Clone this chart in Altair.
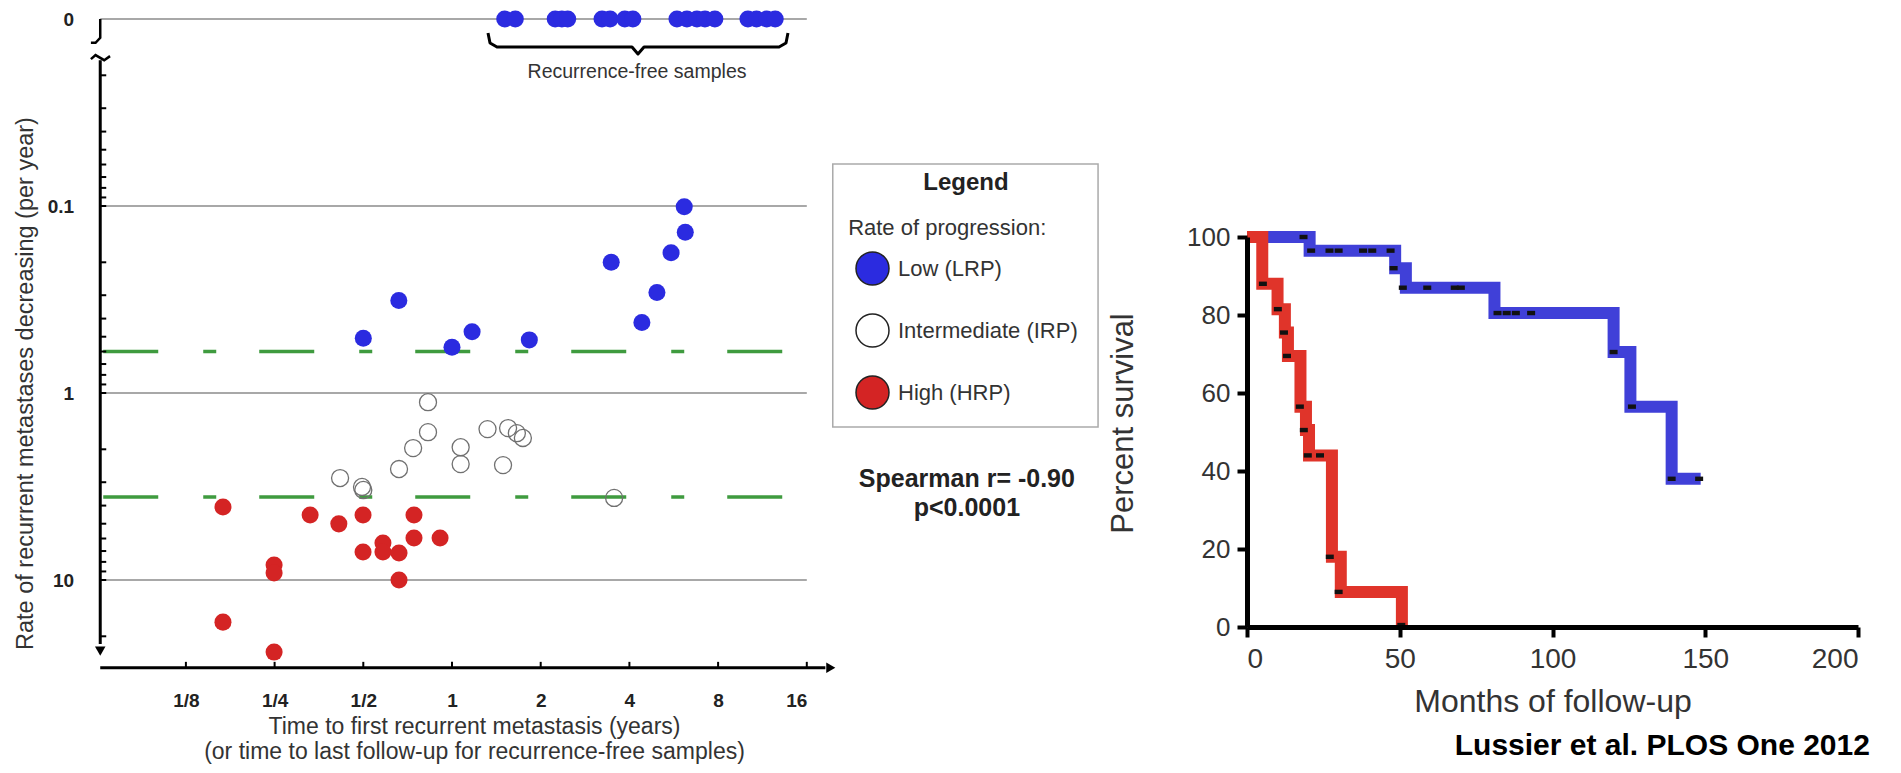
import math
import altair as alt
import pandas as pd

FONT = "Liberation Sans"

# ------------------------------------------------------------------ data
categories = ["Low (LRP)", "Intermediate (IRP)", "High (HRP)"]
cat_fill = ["#2b2be0", "transparent", "#d42424"]

# left panel: time to first recurrent metastasis (years) vs rate (per year)
lrp_time = [0.50, 0.66, 1.00, 1.17, 1.83, 3.47, 4.41, 4.96, 5.54, 6.19, 6.14]
lrp_rate = [0.51, 0.32, 0.57, 0.47, 0.52, 0.20, 0.42, 0.29, 0.178, 0.138, 0.101]
irp_time = [0.417, 0.495, 0.50, 0.661, 0.738, 0.829, 0.829, 1.07, 1.07, 1.32, 1.49, 1.55, 1.66, 1.74, 3.55]
irp_rate = [2.85, 3.18, 3.30, 2.55, 1.97, 1.62, 1.12, 1.95, 2.40, 1.56, 2.43, 1.54, 1.64, 1.74, 3.64]
hrp_time = [0.167, 0.167, 0.249, 0.249, 0.249, 0.330, 0.413, 0.499, 0.499, 0.583, 0.583, 0.661, 0.661, 0.743, 0.743, 0.911]
hrp_rate = [4.07, 16.8, 8.32, 9.18, 24.3, 4.49, 5.01, 4.49, 7.08, 6.34, 7.08, 7.17, 10.0, 4.49, 5.96, 5.96]
free_time = [1.51, 1.64, 2.24, 2.36, 2.47, 3.23, 3.44, 3.86, 4.11, 5.80, 6.27, 6.78, 7.22, 7.80, 10.1, 10.8, 11.7, 12.5]
zero_rate_position = 0.01          # where the broken "0" row sits on the log axis
thresholds = [0.6, 3.6]

x_tick_values = [1 / 8, 1 / 4, 1 / 2, 1, 2, 4, 8, 16]
x_tick_labels = ["1/8", "1/4", "1/2", "1", "2", "4", "8", "16"]
y_tick_values = [0.01, 0.1, 1, 10]
y_tick_labels = ["0", "0.1", "1", "10"]
y_minor_ticks = [0.02, 0.03, 0.04, 0.05, 0.06, 0.07, 0.08, 0.09, 0.1,
                 0.2, 0.3, 0.4, 0.5, 0.6, 0.7, 0.8, 0.9, 1,
                 2, 3, 4, 5, 6, 7, 8, 9, 10, 20]
grid_values = [0.01, 0.1, 1, 10]

spearman_lines = ["Spearman r= -0.90", "p<0.0001"]

# right panel: Kaplan-Meier
lrp_km_time = [0, 20.5, 48.5, 52, 81, 120, 125.5, 139, 148.5]
lrp_km_surv = [100, 96.5, 92, 87, 80.5, 70.5, 56.5, 38, 38]
hrp_km_time = [0, 5, 10, 12.4, 13.4, 17.5, 19.3, 20.3, 27.8, 30.7, 50.7]
hrp_km_surv = [100, 88, 81.5, 75.5, 69.5, 56.5, 50.5, 44, 18, 9, 0]
lrp_cens_time = [18.5, 21, 27, 30, 38, 41, 47, 48, 51, 59, 68, 70, 82, 85, 88, 93, 120, 126, 139, 148]
lrp_cens_surv = [100, 96.5, 96.5, 96.5, 96.5, 96.5, 96.5, 92, 87, 87, 87, 87, 80.5, 80.5, 80.5, 80.5, 70.5, 56.5, 38, 38]
hrp_cens_time = [5.2, 10.1, 12.1, 13.1, 17.3, 18.6, 19.9, 23.9, 27.1, 30, 50.5]
hrp_cens_surv = [88, 81.5, 75.5, 69.5, 56.5, 50.5, 44, 44, 18, 9, 0.5]
km_x_ticks = [0, 50, 100, 150, 200]
km_y_ticks = [0, 20, 40, 60, 80, 100]

# ------------------------------------------------------------------ layout
W, H = 1885, 757
LX_RANGE = [89.2, 798.8]
LY_RANGE = [11, 759]
RX_RANGE = [1239, 1850]
RY_RANGE = [619, 229]

# decorations, in data units of each panel
AXIS_X = 0.064
AXIS_Y = 29.5
Y_AXIS_TOP, Y_AXIS_END, Y_ARROW = 0.0166, 22.0, 24.0
X_AXIS_END, X_ARROW = 18.5, 19.3
break_lines = {
    "a": ([0.064, 0.064, 0.0617, 0.0595], [0.01, 0.0126, 0.0134, 0.0134]),
    "b": ([0.0595, 0.0617, 0.066, 0.0691], [0.0164, 0.0156, 0.0166, 0.0158]),
}
bracket_x = [1.325, 1.346, 1.421, 4.082, 4.277, 4.484, 12.88, 13.60, 13.81]
bracket_y = [0.01189, 0.01344, 0.01411, 0.01411, 0.01539, 0.01411, 0.01411, 0.01344, 0.01189]
recur_text_pos = (4.245, 0.0192)
spearman_pos = (55.9, [2.90, 4.10])
rate_text_pos = (22.1, 0.131)
legend_box = (19.6, 155.8, 0.0596, 1.52)
credit_pos = (203.9, -30.6)


def lookup_expr(values, labels):
    expr = f"'{labels[-1]}'"
    for i in range(len(values) - 2, -1, -1):
        thr = math.sqrt(values[i] * values[i + 1])
        expr = f"datum.value < {thr:.6g} ? '{labels[i]}' : ({expr})"
    return expr


LXS = alt.Scale(type="log", base=2, domain=[1 / 16, 16], range=LX_RANGE, nice=False)
LYS = alt.Scale(type="log", base=10, domain=[0.01, 100], range=LY_RANGE, nice=False)

AX_LX = alt.Axis(
    orient="bottom", offset=-97, values=x_tick_values,
    labelExpr=lookup_expr(x_tick_values, x_tick_labels),
    domain=False, ticks=False, tickSize=0, grid=False,
    labelPadding=23, labelFontSize=19, labelFontWeight="bold", labelColor="#222", labelFont=FONT,
    title=["Time to first recurrent metastasis (years)",
           "(or time to last follow-up for recurrence-free samples)"],
    titleFontSize=23, titleFontWeight="normal", titleColor="#333", titleFont=FONT,
    titleX=466, titleY=47, titleBaseline="top", titleAlign="center", titleLineHeight=25,
)
AX_LY = alt.Axis(
    orient="left", offset=-91.6, values=y_tick_values,
    labelExpr=lookup_expr(y_tick_values, y_tick_labels),
    domain=False, ticks=False, tickSize=0, grid=False,
    labelPadding=26, labelFontSize=19, labelFontWeight="bold", labelColor="#222", labelFont=FONT,
    title="Rate of recurrent metastases decreasing (per year)",
    titleFontSize=23.5, titleFontWeight="normal", titleColor="#333", titleFont=FONT,
    titleX=-74, titleY=375, titleAngle=270, titleBaseline="middle", titleAlign="center",
)


def lx(f, axis=None):
    return alt.X(f, scale=LXS, axis=axis)


def ly(f, axis=None):
    return alt.Y(f, scale=LYS, axis=axis)


grid = alt.Chart(pd.DataFrame({"x0": AXIS_X, "x1": 16, "y": grid_values})).mark_rule(
    color="#a8a8a8", strokeWidth=2).encode(x=lx("x0:Q", AX_LX), x2="x1:Q", y=ly("y:Q", AX_LY))

thr = alt.Chart(pd.DataFrame({"x0": AXIS_X, "x1": 16, "y": thresholds})).mark_rule(
    color="#3f9b3f", strokeWidth=3.5, strokeDash=[55, 45, 13, 43], strokeDashOffset=153
).encode(x=lx("x0:Q"), x2="x1:Q", y=ly("y:Q"))

box = alt.Chart(pd.DataFrame({"x0": [legend_box[0]], "x1": [legend_box[1]],
                              "y0": [legend_box[2]], "y1": [legend_box[3]]})).mark_rect(
    fillOpacity=0, stroke="#aaaaaa", strokeWidth=1.5).encode(
    x=lx("x0:Q"), x2="x1:Q", y=ly("y0:Q"), y2="y1:Q")

minor = alt.Chart(pd.DataFrame({"x": AXIS_X, "y": y_minor_ticks})).mark_tick(
    orient="horizontal", size=6, thickness=2, xOffset=3, color="black", opacity=1
).encode(x=lx("x:Q"), y=ly("y:Q"))

xticks = alt.Chart(pd.DataFrame({"x": x_tick_values, "y": AXIS_Y})).mark_tick(
    orient="vertical", size=6, thickness=2, yOffset=-3, color="black", opacity=1
).encode(x=lx("x:Q"), y=ly("y:Q"))

xline = alt.Chart(pd.DataFrame({"x0": [AXIS_X], "x1": [X_AXIS_END], "y": [AXIS_Y]})).mark_rule(
    color="black", strokeWidth=3).encode(x=lx("x0:Q"), x2="x1:Q", y=ly("y:Q"))
yline = alt.Chart(pd.DataFrame({"x": [AXIS_X], "y0": [Y_AXIS_TOP], "y1": [Y_AXIS_END]})).mark_rule(
    color="black", strokeWidth=3).encode(x=lx("x:Q"), y=ly("y0:Q"), y2="y1:Q")
arrow_down = alt.Chart(pd.DataFrame({"x": [AXIS_X], "y": [Y_ARROW]})).mark_point(
    shape="triangle-down", filled=True, size=110, color="black", opacity=1).encode(x=lx("x:Q"), y=ly("y:Q"))
arrow_right = alt.Chart(pd.DataFrame({"x": [X_ARROW], "y": [AXIS_Y]})).mark_point(
    shape="triangle-right", filled=True, size=110, color="black", opacity=1).encode(x=lx("x:Q"), y=ly("y:Q"))

brk_rows = []
for g, (xs, ys) in break_lines.items():
    for i, (a, b) in enumerate(zip(xs, ys)):
        brk_rows.append({"g": g, "i": i, "x": a, "y": b})
brk = alt.Chart(pd.DataFrame(brk_rows)).mark_line(color="black", strokeWidth=2.5).encode(
    x=lx("x:Q"), y=ly("y:Q"), detail="g:N", order="i:Q")

bracket = alt.Chart(pd.DataFrame({"i": range(len(bracket_x)), "x": bracket_x, "y": bracket_y})).mark_line(
    color="black", strokeWidth=3, strokeJoin="round").encode(x=lx("x:Q"), y=ly("y:Q"), order="i:Q")

irp = alt.Chart(pd.DataFrame({"x": irp_time, "y": irp_rate})).mark_point(
    filled=False, size=290, color="#707070", strokeWidth=1.3, opacity=1).encode(x=lx("x:Q"), y=ly("y:Q"))

pts_df = pd.DataFrame({
    "x": lrp_time + hrp_time + free_time,
    "y": lrp_rate + hrp_rate + [zero_rate_position] * len(free_time),
    "cat": [categories[0]] * len(lrp_time) + [categories[2]] * len(hrp_time) + [categories[0]] * len(free_time),
})
LEGEND = alt.Legend(
    orient="none", legendX=847, legendY=163, direction="vertical",
    title="Legend", titleFontSize=24, titleFontWeight="bold", titleColor="#222", titleFont=FONT,
    titleAnchor="middle", titlePadding=56,
    symbolType="circle", symbolSize=1089, symbolStrokeColor="#222", symbolStrokeWidth=1.5, symbolOpacity=1,
    labelFontSize=22, labelColor="#333", labelFont=FONT, labelOffset=8, labelLimit=400,
    rowPadding=23, padding=0,
)
pts = alt.Chart(pts_df).mark_circle(size=290, opacity=1).encode(
    x=lx("x:Q"), y=ly("y:Q"),
    fill=alt.Fill("cat:N", scale=alt.Scale(domain=categories, range=cat_fill), legend=LEGEND))

recur_txt = alt.Chart(pd.DataFrame({"x": [recur_text_pos[0]], "y": [recur_text_pos[1]],
                                    "t": ["Recurrence-free samples"]})).mark_text(
    font=FONT, fontSize=19.5, color="#333", align="center", baseline="middle").encode(
    x=lx("x:Q"), y=ly("y:Q"), text="t:N")
rate_txt = alt.Chart(pd.DataFrame({"x": [rate_text_pos[0]], "y": [rate_text_pos[1]],
                                   "t": ["Rate of progression:"]})).mark_text(
    font=FONT, fontSize=22, color="#333", align="left", baseline="middle").encode(
    x=lx("x:Q"), y=ly("y:Q"), text="t:N")
spear_txt = alt.Chart(pd.DataFrame({"x": [spearman_pos[0]] * 2, "y": spearman_pos[1],
                                    "t": spearman_lines})).mark_text(
    font=FONT, fontSize=25, fontWeight="bold", color="#222", align="center", baseline="middle").encode(
    x=lx("x:Q"), y=ly("y:Q"), text="t:N")

left_layers = [grid, thr, box, minor, xticks, xline, yline, arrow_down, arrow_right,
               brk, bracket, irp, pts, recur_txt, rate_txt, spear_txt]

# ------------------------------------------------------------------ right panel
RXS = alt.Scale(domain=[0, 200], range=RX_RANGE, nice=False, zero=False)
RYS = alt.Scale(domain=[0, 100], range=RY_RANGE, nice=False, zero=False)

AX_RX = alt.Axis(
    orient="bottom", offset=-138, values=km_x_ticks, grid=False,
    domainColor="black", domainWidth=5, tickColor="black", tickWidth=4, tickSize=10,
    labelFontSize=28, labelColor="#333", labelFont=FONT, labelPadding=8, format="d",
    title="Months of follow-up", titleFontSize=32, titleFontWeight="normal", titleColor="#333",
    titleFont=FONT, titleX=1544.5, titleY=59, titleBaseline="top", titleAlign="center", zindex=1,
)
AX_RY = alt.Axis(
    orient="left", offset=-1239, values=km_y_ticks, grid=False,
    domainColor="black", domainWidth=5, tickColor="black", tickWidth=4, tickSize=10,
    labelFontSize=26, labelColor="#333", labelFont=FONT, labelPadding=7, format="d",
    title="Percent survival", titleFontSize=31, titleFontWeight="normal", titleColor="#333",
    titleFont=FONT, titleX=-124, titleY=415, titleAngle=270, titleBaseline="middle",
    titleAlign="center", zindex=1,
)


def rx(f, axis=None):
    return alt.X(f, scale=RXS, axis=axis)


def ry(f, axis=None):
    return alt.Y(f, scale=RYS, axis=axis)


km_blue = alt.Chart(pd.DataFrame({"i": range(len(lrp_km_time)), "t": lrp_km_time, "s": lrp_km_surv})).mark_line(
    interpolate="step-after", strokeWidth=12, color="#4040d8", strokeJoin="miter").encode(
    x=rx("t:Q", AX_RX), y=ry("s:Q", AX_RY), order="i:Q")
km_red = alt.Chart(pd.DataFrame({"i": range(len(hrp_km_time)), "t": hrp_km_time, "s": hrp_km_surv})).mark_line(
    interpolate="step-after", strokeWidth=12, color="#e0342a", strokeJoin="miter").encode(
    x=rx("t:Q"), y=ry("s:Q"), order="i:Q")
cens = alt.Chart(pd.DataFrame({"t": lrp_cens_time + hrp_cens_time,
                               "s": lrp_cens_surv + hrp_cens_surv})).mark_point(
    shape="M-1,-0.55L1,-0.55L1,0.55L-1,0.55Z", filled=True, size=64, color="#111", opacity=1).encode(
    x=rx("t:Q"), y=ry("s:Q"))
credit = alt.Chart(pd.DataFrame({"x": [credit_pos[0]], "y": [credit_pos[1]],
                                 "t": ["Lussier et al. PLOS One 2012"]})).mark_text(
    font=FONT, fontSize=30, fontWeight="bold", color="black", align="right", baseline="middle").encode(
    x=rx("x:Q"), y=ry("y:Q"), text="t:N")

right_layers = [km_blue, km_red, cens, credit]

chart = (
    alt.layer(*left_layers, *right_layers)
    .resolve_scale(x="independent", y="independent")
    .properties(width=W, height=H, padding=0, autosize=alt.AutoSizeParams(type="none"))
    .configure(font=FONT)
    .configure_view(strokeWidth=0)
)

chart.save("out.html", embed_options={"renderer": "svg", "actions": False})
